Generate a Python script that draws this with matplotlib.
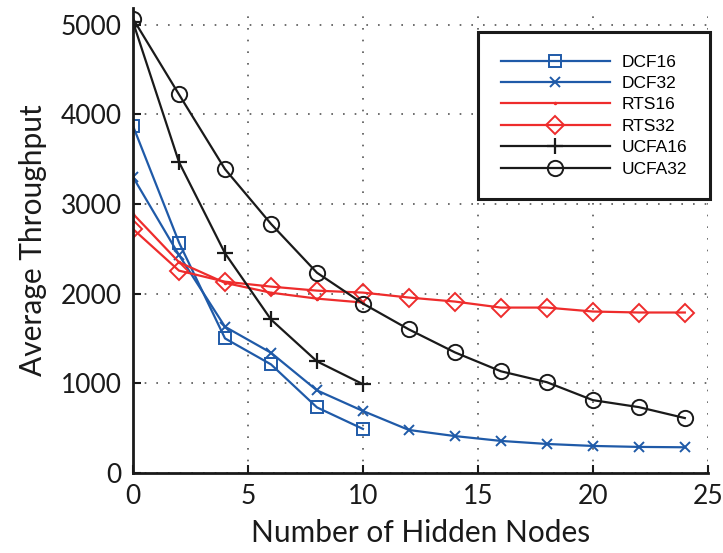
import numpy as np
import matplotlib.pyplot as plt

nodes_short = [0, 2, 4, 6, 8, 10]
nodes_long = [0, 2, 4, 6, 8, 10, 12, 14, 16, 18, 20, 22, 24]

dcf16 = [3870, 2570, 1500, 1210, 730, 490]
dcf32 = [3300, 2430, 1630, 1340, 920, 690, 478, 410, 356, 322, 300, 289, 285]
rts16 = [2890, 2350, 2120, 2010, 1944, 1900]
rts32 = [2720, 2256, 2133, 2078, 2033, 2011, 1956, 1911, 1844, 1844, 1800, 1789, 1789]
ucfa16 = [5030, 3467, 2450, 1711, 1244, 989]
ucfa32 = [5067, 4222, 3389, 2778, 2233, 1889, 1600, 1344, 1133, 1011, 811, 733, 611]

blue = '#1f5aa8'
red = '#ee2c2c'
black = '#1a1a1a'

fig = plt.figure(figsize=(7.23, 5.53), dpi=100)
ax = fig.add_axes([0.184, 0.145, 0.795, 0.841])

ax.plot(nodes_short, dcf16, color=blue, lw=1.6, marker='s', ms=9, mfc='none', mew=1.4, label='DCF16')
ax.plot(nodes_long, dcf32, color=blue, lw=1.6, marker='x', ms=7, mew=1.4, label='DCF32')
ax.plot(nodes_short, rts16, color=red, lw=1.6, marker='.', ms=3, label='RTS16')
ax.plot(nodes_long, rts32, color=red, lw=1.6, marker='D', ms=9, mfc='none', mew=1.4, label='RTS32')
ax.plot(nodes_short, ucfa16, color=black, lw=1.6, marker='+', ms=11, mew=1.6, label='UCFA16')
ax.plot(nodes_long, ucfa32, color=black, lw=1.6, marker='o', ms=11, mfc='none', mew=1.4, label='UCFA32')

ax.set_xlim(0, 25)
ax.set_ylim(0, 5190)
ax.set_xticks([0, 5, 10, 15, 20, 25])
ax.set_yticks([0, 1000, 2000, 3000, 4000, 5000])
ax.grid(True, linestyle=(0, (1, 6)), color='#555555', linewidth=1.2)

for side in ['top', 'right']:
    ax.spines[side].set_visible(False)
for side in ['left', 'bottom']:
    ax.spines[side].set_linewidth(2)
    ax.spines[side].set_color('#1a1a1a')

ax.tick_params(direction='in', length=6, width=1.5, labelsize=19, colors='#1a1a1a', pad=8)
for lab in ax.get_xticklabels() + ax.get_yticklabels():
    lab.set_family('Lato')

ax.set_xlabel('Number of Hidden Nodes', fontsize=21.5, family='Lato', color='#1a1a1a', labelpad=7)
ax.set_ylabel('Average Throughput', fontsize=21.5, family='Lato', color='#1a1a1a', labelpad=10)

leg = ax.legend(loc='upper right', bbox_to_anchor=(1.003, 0.948),
                prop={'family': 'Liberation Sans', 'size': 12.5},
                handlelength=6.3, handletextpad=0.65, labelspacing=0.36,
                borderpad=1.3, borderaxespad=0, fancybox=False, framealpha=1)
leg.get_frame().set_edgecolor('#1a1a1a')
leg.get_frame().set_linewidth(2.2)

fig.savefig('out.png', dpi=100)
